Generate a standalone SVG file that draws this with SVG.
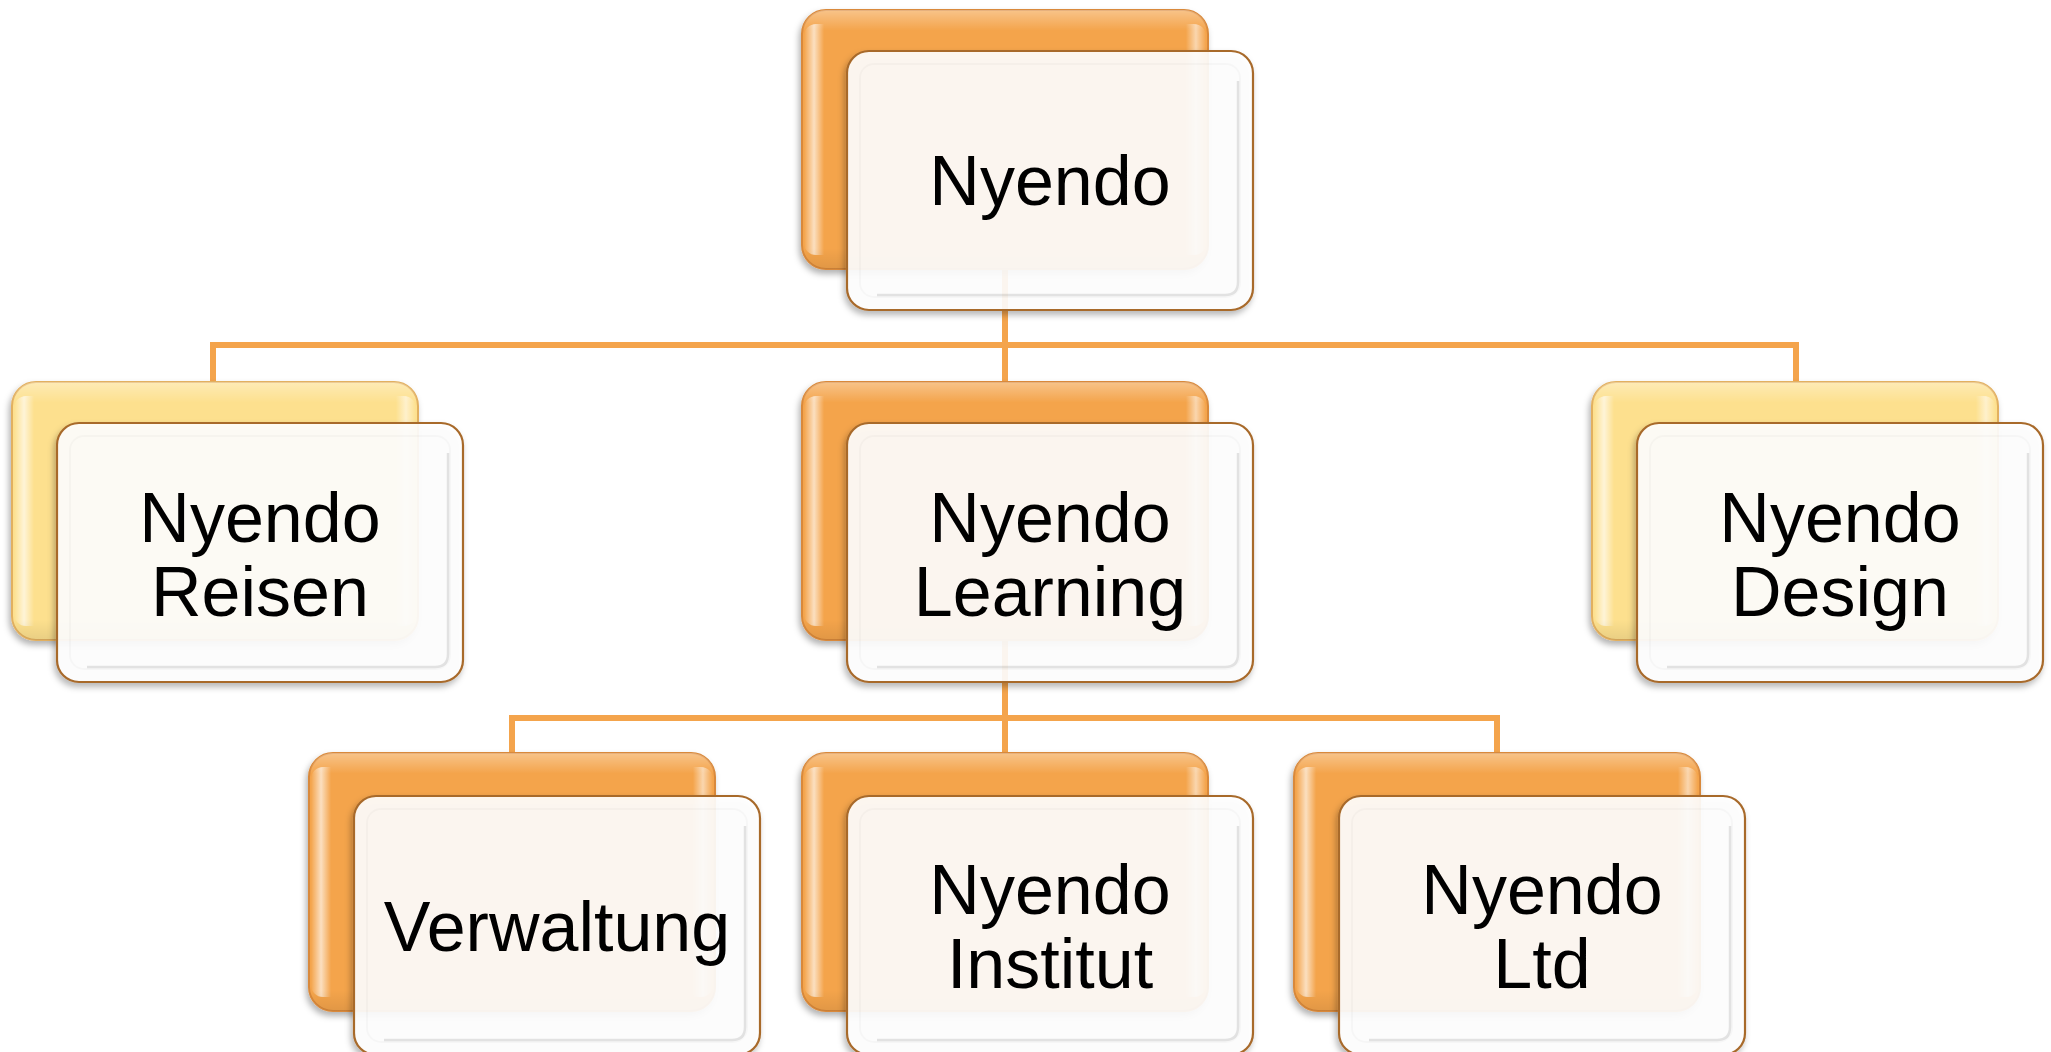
<svg xmlns="http://www.w3.org/2000/svg" width="2051" height="1052" viewBox="0 0 2051 1052">
<defs>
<filter id="sh" x="-10%" y="-10%" width="125%" height="130%">
<feDropShadow dx="-2" dy="4" stdDeviation="3" flood-color="#000" flood-opacity="0.3"/>
</filter>
<linearGradient id="gloss" x1="0" y1="0" x2="1" y2="0">
<stop offset="0" stop-color="#fff" stop-opacity="0"/>
<stop offset="0.025" stop-color="#fff" stop-opacity="0.65"/>
<stop offset="0.05" stop-color="#fff" stop-opacity="0"/>
<stop offset="0.95" stop-color="#fff" stop-opacity="0"/>
<stop offset="0.975" stop-color="#fff" stop-opacity="0.55"/>
<stop offset="1" stop-color="#fff" stop-opacity="0"/>
</linearGradient>
<linearGradient id="glossTop" x1="0" y1="0" x2="0" y2="1">
<stop offset="0" stop-color="#fff" stop-opacity="0.35"/>
<stop offset="0.08" stop-color="#fff" stop-opacity="0"/>
<stop offset="0.92" stop-color="#000" stop-opacity="0"/>
<stop offset="1" stop-color="#000" stop-opacity="0.08"/>
</linearGradient>
</defs>
<style>
.conn{fill:none;stroke:#F4A44C;stroke-width:6}
.bo{fill:#F4A44C;stroke:#D9893A;stroke-width:2}
.by{fill:#FDE08E;stroke:#E2B060;stroke-width:2}
.gl{fill:url(#gloss)}
.gt{fill:url(#glossTop)}
.fr{fill:#fff;fill-opacity:0.9;stroke:#A86A2C;stroke-width:2.2}
.bev{fill:none;stroke:#000;stroke-opacity:0.025;stroke-width:2}
.bev2{fill:none;stroke:#000;stroke-opacity:0.1;stroke-width:2.5}
.t{font-family:"Liberation Sans",Arial,sans-serif;font-size:70px;fill:#000;text-anchor:middle}
</style>
<rect width="2051" height="1052" fill="#fff"/>
<g id="connectors">
<path class="conn" d="M1005,270 V382 M213,382 V345 H1796 V382"/>
<path class="conn" d="M1005,640 V753 M512,753 V718 H1497 V753"/>
</g>
<g id="n-nyendo" transform="translate(802,10)">
<rect class="bo" width="406" height="259" rx="24" filter="url(#sh)"/>
<rect class="gl" x="2" y="14" width="402" height="231" rx="12"/>
<rect class="gt" width="406" height="259" rx="24"/>
<g transform="translate(45,41)">
<rect class="fr" width="406" height="259" rx="22" filter="url(#sh)"/>
<rect class="bev" x="13" y="13" width="380" height="233" rx="14"/>
<path class="bev2" d="M30,244 H378 Q391,244 391,231 V30"/>
<text class="t" x="203" y="154">Nyendo</text>
</g>
</g>
<g id="n-reisen" transform="translate(12,382)">
<rect class="by" width="406" height="258" rx="24" filter="url(#sh)"/>
<rect class="gl" x="2" y="14" width="402" height="230" rx="12"/>
<rect class="gt" width="406" height="258" rx="24"/>
<g transform="translate(45,41)">
<rect class="fr" width="406" height="259" rx="22" filter="url(#sh)"/>
<rect class="bev" x="13" y="13" width="380" height="233" rx="14"/>
<path class="bev2" d="M30,244 H378 Q391,244 391,231 V30"/>
<text class="t" x="203" y="119">Nyendo</text>
<text class="t" x="203" y="193">Reisen</text>
</g>
</g>
<g id="n-learning" transform="translate(802,382)">
<rect class="bo" width="406" height="258" rx="24" filter="url(#sh)"/>
<rect class="gl" x="2" y="14" width="402" height="230" rx="12"/>
<rect class="gt" width="406" height="258" rx="24"/>
<g transform="translate(45,41)">
<rect class="fr" width="406" height="259" rx="22" filter="url(#sh)"/>
<rect class="bev" x="13" y="13" width="380" height="233" rx="14"/>
<path class="bev2" d="M30,244 H378 Q391,244 391,231 V30"/>
<text class="t" x="203" y="119">Nyendo</text>
<text class="t" x="203" y="193">Learning</text>
</g>
</g>
<g id="n-design" transform="translate(1592,382)">
<rect class="by" width="406" height="258" rx="24" filter="url(#sh)"/>
<rect class="gl" x="2" y="14" width="402" height="230" rx="12"/>
<rect class="gt" width="406" height="258" rx="24"/>
<g transform="translate(45,41)">
<rect class="fr" width="406" height="259" rx="22" filter="url(#sh)"/>
<rect class="bev" x="13" y="13" width="380" height="233" rx="14"/>
<path class="bev2" d="M30,244 H378 Q391,244 391,231 V30"/>
<text class="t" x="203" y="119">Nyendo</text>
<text class="t" x="203" y="193">Design</text>
</g>
</g>
<g id="n-verwaltung" transform="translate(309,753)">
<rect class="bo" width="406" height="258" rx="24" filter="url(#sh)"/>
<rect class="gl" x="2" y="14" width="402" height="230" rx="12"/>
<rect class="gt" width="406" height="258" rx="24"/>
<g transform="translate(45,43)">
<rect class="fr" width="406" height="259" rx="22" filter="url(#sh)"/>
<rect class="bev" x="13" y="13" width="380" height="233" rx="14"/>
<path class="bev2" d="M30,244 H378 Q391,244 391,231 V30"/>
<text class="t" x="203" y="155">Verwaltung</text>
</g>
</g>
<g id="n-institut" transform="translate(802,753)">
<rect class="bo" width="406" height="258" rx="24" filter="url(#sh)"/>
<rect class="gl" x="2" y="14" width="402" height="230" rx="12"/>
<rect class="gt" width="406" height="258" rx="24"/>
<g transform="translate(45,43)">
<rect class="fr" width="406" height="259" rx="22" filter="url(#sh)"/>
<rect class="bev" x="13" y="13" width="380" height="233" rx="14"/>
<path class="bev2" d="M30,244 H378 Q391,244 391,231 V30"/>
<text class="t" x="203" y="118">Nyendo</text>
<text class="t" x="203" y="192">Institut</text>
</g>
</g>
<g id="n-ltd" transform="translate(1294,753)">
<rect class="bo" width="406" height="258" rx="24" filter="url(#sh)"/>
<rect class="gl" x="2" y="14" width="402" height="230" rx="12"/>
<rect class="gt" width="406" height="258" rx="24"/>
<g transform="translate(45,43)">
<rect class="fr" width="406" height="259" rx="22" filter="url(#sh)"/>
<rect class="bev" x="13" y="13" width="380" height="233" rx="14"/>
<path class="bev2" d="M30,244 H378 Q391,244 391,231 V30"/>
<text class="t" x="203" y="118">Nyendo</text>
<text class="t" x="203" y="192">Ltd</text>
</g>
</g>
</svg>
